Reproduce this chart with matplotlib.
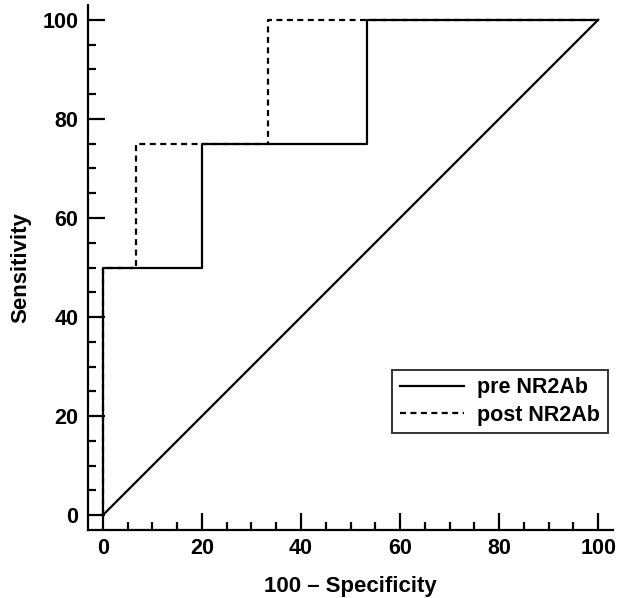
import matplotlib

matplotlib.use("Agg")
import matplotlib.pyplot as plt
from matplotlib.ticker import MultipleLocator

plt.rcParams["font.family"] = ["Liberation Sans", "DejaVu Sans"]
plt.rcParams["font.weight"] = "bold"

# ROC step curves (100 - specificity, sensitivity)
pre_x = [0, 0, 20, 20, 53.3, 53.3, 100]
pre_y = [0, 50, 50, 75, 75, 100, 100]
post_x = [0, 0, 6.7, 6.7, 33.3, 33.3, 100]
post_y = [0, 50, 50, 75, 75, 100, 100]
ref_x = [0, 100]
ref_y = [0, 100]

fig = plt.figure(figsize=(6.19, 5.98), dpi=100)
ax = fig.add_axes([88 / 619, 68 / 598, 525 / 619, 525 / 598])

ax.plot(post_x, post_y, color="black", linewidth=1.6, linestyle=(0, (2.7, 2.0)),
        label="post NR2Ab", zorder=2)
ax.plot(pre_x, pre_y, color="black", linewidth=1.6, label="pre NR2Ab", zorder=3)
ax.plot(ref_x, ref_y, color="black", linewidth=1.6, zorder=3)

ax.set_xlim(-3, 103)
ax.set_ylim(-3, 103)
ax.spines["top"].set_visible(False)
ax.spines["right"].set_visible(False)
for s in ("left", "bottom"):
    ax.spines[s].set_linewidth(1.6)

ax.xaxis.set_major_locator(MultipleLocator(20))
ax.xaxis.set_minor_locator(MultipleLocator(5))
ax.yaxis.set_major_locator(MultipleLocator(20))
ax.yaxis.set_minor_locator(MultipleLocator(5))
ax.tick_params(which="major", direction="in", length=12, width=1.6, labelsize=15.5, pad=6)
ax.tick_params(which="minor", direction="in", length=6, width=1.6)
ax.tick_params(axis="y", pad=7)
for lab in ax.get_xticklabels() + ax.get_yticklabels():
    lab.set_fontweight("bold")

ax.set_xlabel("100 – Specificity", fontsize=16, fontweight="bold", labelpad=12)
ax.set_ylabel("Sensitivity", fontsize=16, fontweight="bold", labelpad=8)

handles, labels = ax.get_legend_handles_labels()
leg = ax.legend(handles[::-1], labels[::-1], loc="upper right",
                bbox_to_anchor=(0.99, 0.305), frameon=True, fancybox=False,
                edgecolor="black", fontsize=15.5, handlelength=3.0,
                borderpad=0.35, labelspacing=0.3, handletextpad=0.6,
                borderaxespad=0.0)
leg.get_frame().set_linewidth(1.4)
for t in leg.get_texts():
    t.set_fontweight("bold")

fig.savefig("out.png", dpi=100)
